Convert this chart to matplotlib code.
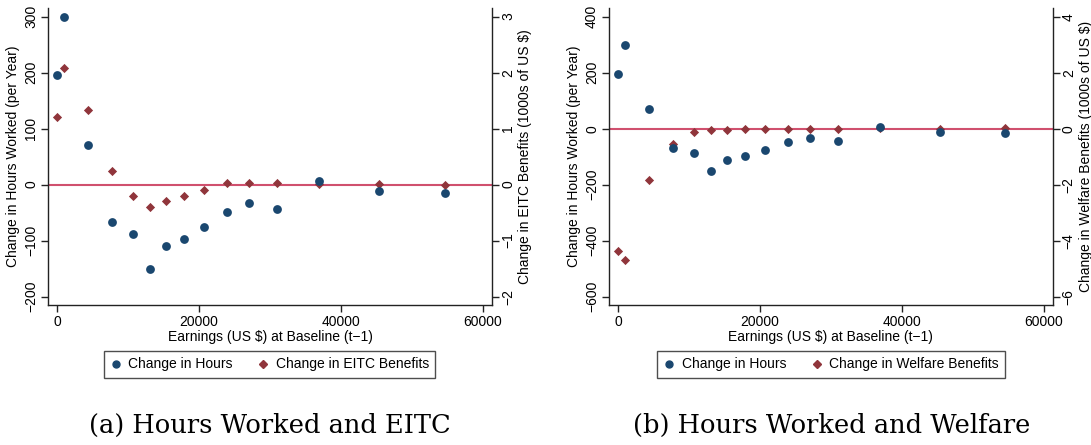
import matplotlib
matplotlib.use("Agg")
import matplotlib.pyplot as plt
from matplotlib.lines import Line2D

plt.rcParams['font.family'] = ['Liberation Sans', 'DejaVu Sans']

earnings = [0, 1000, 4300, 7700, 10700, 13100, 15300, 17850, 20700, 23900, 27100, 31000, 36950, 45350, 54600]
hours = [195, 300, 70, -67, -88, -150, -110, -98, -76, -49, -32, -44, 7, -12, -15]
eitc = [1.20, 2.09, 1.34, 0.25, -0.20, -0.40, -0.30, -0.20, -0.09, 0.02, 0.03, 0.03, 0.01, 0.01, 0.0]
welfare = [-4.36, -4.69, -1.84, -0.54, -0.12, -0.05, -0.04, -0.01, -0.01, 0.0, 0.0, 0.0, 0.01, 0.0, 0.02]

xticks = [0, 20000, 40000, 60000]
left_yticks_a = [-200, -100, 0, 100, 200, 300]
right_yticks_a = [-2, -1, 0, 1, 2, 3]
left_yticks_b = [-600, -400, -200, 0, 200, 400]
right_yticks_b = [-6, -4, -2, 0, 2, 4]

NAVY = '#1a476f'
MAROON = '#90353b'
ZLINE = '#d0506e'
FS = 10

fig = plt.figure(figsize=(10.91, 4.45), dpi=100)


def panel(rect, benefit, ylim_l, ylim_r, lyt, ryt, rlabel, leglabel, caption, legx):
    ax = fig.add_axes(rect)
    ax2 = ax.twinx()
    ax.set_xlim(-1300, 61300)
    ax.set_ylim(*ylim_l)
    ax2.set_ylim(*ylim_r)
    ax2.axhline(0, color=ZLINE, lw=1.5, zorder=1)
    ax2.scatter(earnings, benefit, marker='D', s=22, color=MAROON, zorder=3, linewidths=0)
    ax.scatter(earnings, hours, marker='o', s=40, color=NAVY, zorder=3, linewidths=0)
    ax.set_zorder(ax2.get_zorder() + 1)
    ax.patch.set_visible(False)
    for a in (ax, ax2):
        a.spines['top'].set_visible(False)
        for s in a.spines.values():
            s.set_linewidth(1.0)
            s.set_color('#222222')
    ax.spines['right'].set_visible(False)
    ax2.spines['left'].set_visible(False)
    ax2.spines['bottom'].set_visible(False)
    ax.set_xticks(xticks)
    ax.set_xticklabels([str(v) for v in xticks], fontsize=FS)
    ax.set_yticks(lyt)
    ax.set_yticklabels([str(v).replace('-', '\u2212') for v in lyt], fontsize=FS,
                       rotation=90, va='center')
    ax2.set_yticks(ryt)
    ax2.set_yticklabels([str(v).replace('-', '\u2212') for v in ryt], fontsize=FS,
                        rotation=90, va='center')
    ax.tick_params(axis='both', length=5, width=1.0, color='#222222', pad=2)
    ax2.tick_params(axis='y', length=5, width=1.0, color='#222222', pad=1.5)
    ax.set_xlabel('Earnings (US $) at Baseline (t\u22121)', fontsize=FS, labelpad=1)
    ax.set_ylabel('Change in Hours Worked (per Year)', fontsize=FS, labelpad=3)
    ax2.set_ylabel(rlabel, fontsize=FS, rotation=90, labelpad=2)
    handles = [Line2D([], [], marker='o', ls='', color=NAVY, markersize=5),
               Line2D([], [], marker='D', ls='', color=MAROON, markersize=4)]
    leg = fig.legend(handles, ['Change in Hours', leglabel], loc='center',
                     bbox_to_anchor=(legx, 0.181), ncol=2, frameon=True, fancybox=False,
                     edgecolor='#222222', fontsize=FS, handlelength=0.8, handletextpad=0.5,
                     columnspacing=1.8, borderpad=0.45, borderaxespad=0)
    leg.get_frame().set_linewidth(1.0)
    fig.text(legx, 0.045, caption, ha='center', va='center', fontsize=18.5,
             family=['DejaVu Serif'])


panel([0.044, 0.3146, 0.407, 0.667], eitc, (-215, 315), (-2.15, 3.15),
      left_yticks_a, right_yticks_a, 'Change in EITC Benefits (1000s of US $)',
      'Change in EITC Benefits', '(a) Hours Worked and EITC', 0.247)
panel([0.558, 0.3146, 0.407, 0.667], welfare, (-630, 431), (-6.3, 4.31),
      left_yticks_b, right_yticks_b, 'Change in Welfare Benefits (1000s of US $)',
      'Change in Welfare Benefits', '(b) Hours Worked and Welfare', 0.762)

fig.savefig('out.png', dpi=100, facecolor='white')
